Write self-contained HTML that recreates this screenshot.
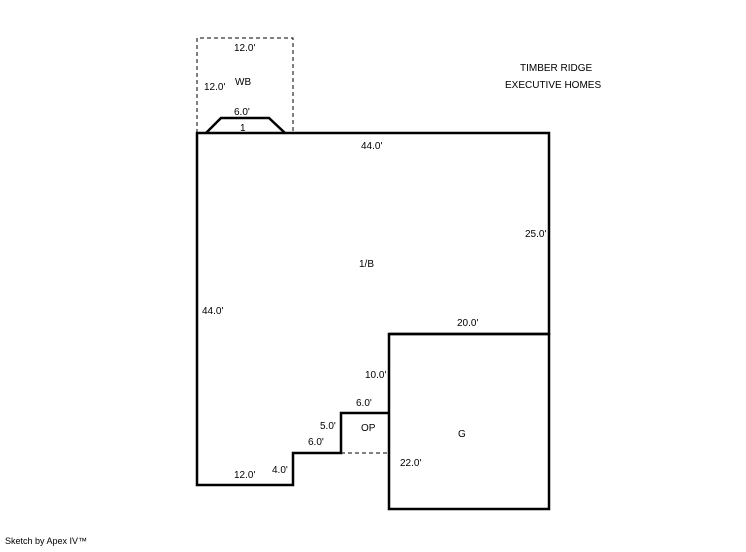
<!DOCTYPE html>
<html><head><style>
body{margin:0;background:#fff;}
svg text{font-family:"Liberation Sans",Arial,sans-serif;font-size:10px;fill:#000;}
</style></head><body>
<svg width="746" height="547" viewBox="0 0 746 547" xmlns="http://www.w3.org/2000/svg">
<rect width="746" height="547" fill="#fff"/>
<g fill="none" stroke="#000" stroke-width="1" stroke-dasharray="4,3">
<polyline points="197,133 197,38 293,38 293,133"/>
<line x1="341" y1="453" x2="389" y2="453"/>
</g>
<g fill="none" stroke="#000" stroke-width="2.5">
<polyline points="206,133 221,118 269,118 285,133"/>
<polyline points="389,334 549,334 549,133 197,133 197,485 293,485 293,453 341,453 341,413 389,413"/>
<rect x="389" y="334" width="160" height="175"/>
</g>
<text x="234" y="51">12.0'</text>
<text x="204" y="90">12.0'</text>
<text x="235" y="85">WB</text>
<text x="234" y="115">6.0'</text>
<text x="240" y="131">1</text>
<text x="361" y="149">44.0'</text>
<text x="520" y="71">TIMBER RIDGE</text>
<text x="505" y="88">EXECUTIVE HOMES</text>
<text x="525" y="237">25.0'</text>
<text x="359" y="267">1/B</text>
<text x="202" y="314">44.0'</text>
<text x="457" y="326">20.0'</text>
<text x="365" y="378">10.0'</text>
<text x="356" y="406">6.0'</text>
<text x="320" y="429">5.0'</text>
<text x="361" y="431">OP</text>
<text x="308" y="445">6.0'</text>
<text x="458" y="437">G</text>
<text x="400" y="466">22.0'</text>
<text x="272" y="473">4.0'</text>
<text x="234" y="478">12.0'</text>
<text x="5" y="544" style="font-size:9px">Sketch by Apex IV™</text>
</svg>
</body></html>
